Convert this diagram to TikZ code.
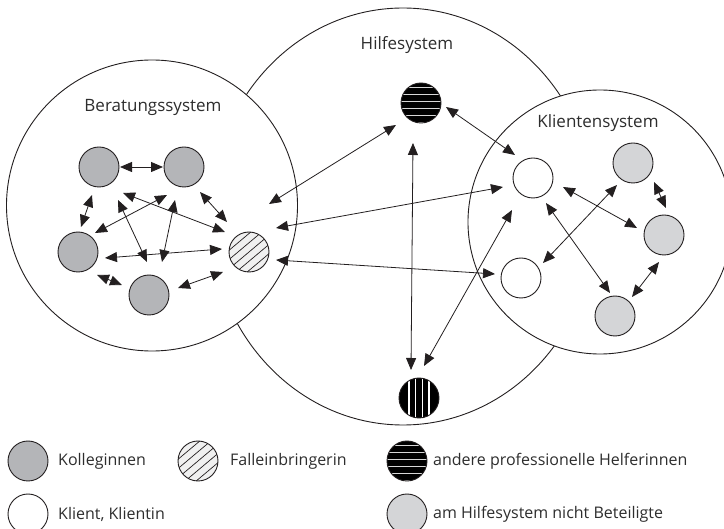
\documentclass[tikz,border=0pt]{standalone}
\usepackage{fontspec}
\setmainfont{Open Sans}
\usetikzlibrary{arrows.meta,calc}
\definecolor{koll}{RGB}{180,181,184}
\definecolor{nb}{RGB}{212,213,215}
\definecolor{linec}{RGB}{35,31,32}
\definecolor{txt}{RGB}{45,45,45}
\definecolor{stripe}{RGB}{215,215,215}
\tikzset{
  person/.style={circle, draw=linec, line width=0.9pt, minimum size=40pt, inner sep=0pt, outer sep=0pt},
  kolleg/.style={person, fill=koll},
  klient/.style={person, fill=white},
  unbet/.style={person, fill=nb},
  fall/.style={person, fill=black!6, path picture={
      \foreach \k in {-4,...,4}
        \draw[linec, line width=0.7pt] ($(path picture bounding box.center)+(\k*11-25,21)$) -- ++(50,-42);}},
  helferH/.style={person, fill=black, path picture={
      \foreach \k in {-15.5,-8.5,-1.5,5.5,12.5,19.5}
        \draw[stripe, line width=1.5pt] ($(path picture bounding box.center)+(-25,\k)$) -- ++(50,0);}},
  helferV/.style={person, fill=black, path picture={
      \foreach \k in {-10,-3.3,3.3,10}
        \draw[white, line width=1.4pt] ($(path picture bounding box.center)+(\k,-25)$) -- ++(0,50);}},
  dbl/.style={{Triangle[length=12pt,width=10pt]}-{Triangle[length=12pt,width=10pt]}, line width=0.8pt, draw=linec},
  sysline/.style={draw=linec, line width=0.9pt},
  syslabel/.style={font=\fontsize{17}{20}\selectfont, text=txt},
  legtext/.style={font=\fontsize{16}{19}\selectfont, text=txt, anchor=west, inner sep=0pt}
}
\begin{document}
\begin{tikzpicture}[x=1pt, y=-1pt]
\useasboundingbox (0,0) rectangle (724,529);
% systems
\draw[sysline] (403,216.5) ellipse [x radius=193, y radius=208.5];
\draw[sysline, fill=white] (152,205.5) circle [radius=145.5];
\draw[sysline, fill=white] (600,222) circle [radius=132];
\node[syslabel] (lH) at (407,45) {Hilfesystem};
\node[syslabel] (lB) at (153,107) {Beratungssystem};
\node[syslabel] (lK) at (598,123) {Klientensystem};
% nodes
\node[kolleg] (K1) at (99,167) {};
\node[kolleg] (K2) at (184,167) {};
\node[kolleg] (K3) at (78,252) {};
\node[kolleg] (K4) at (149,295) {};
\node[fall] (F) at (249,252) {};
\node[klient] (C1) at (533,178) {};
\node[klient] (C2) at (521,278) {};
\node[unbet] (G1) at (633,163) {};
\node[unbet] (G2) at (664,235) {};
\node[unbet] (G3) at (615,316) {};
\node[helferH] (HT) at (421,103) {};
\node[helferV] (HB) at (419,398) {};
% arrows left cluster
\draw[dbl] ($(K1)+(21,0)$) -- ($(K2)+(-21,0)$);
\draw[dbl] ($(K1)+(-7,28)$) -- ($(K3)+(3,-25)$);
\draw[dbl] ($(K2)+(16,25)$) -- ($(F)+(-22,-30)$);
\draw[dbl] ($(K1)+(24,26)$) -- ($(F)+(-24,-20)$);
\draw[dbl] ($(K2)+(-17,28)$) -- ($(K3)+(17,-19)$);
\draw[dbl] ($(K1)+(19,33)$) -- ($(K4)+(-2,-33)$);
\draw[dbl] ($(K2)+(-9,33)$) -- ($(K4)+(13,-33)$);
\draw[dbl] ($(K3)+(27,6)$) -- ($(F)+(-27,-3)$);
\draw[dbl] ($(K3)+(19,23)$) -- ($(K4)+(-27,-10)$);
\draw[dbl] ($(K4)+(29,-7)$) -- ($(F)+(-26,20)$);
% arrows between systems
\draw[dbl] ($(F)+(20,-48)$) -- ($(HT)+(-25,22)$);
\draw[dbl] ($(F)+(27,-24)$) -- ($(C1)+(-30,9)$);
\draw[dbl] ($(F)+(27,8)$) -- ($(C2)+(-26,-4)$);
\draw[dbl] ($(HT)+(25,4)$) -- ($(C1)+(-18,-23)$);
\draw[dbl] ($(HB)+(5,-32)$) -- ($(C1)+(-21,32)$);
\draw[dbl] ($(HT)+(-8,40)$) -- ($(HB)+(-8,-28)$);
% arrows right cluster
\draw[dbl] ($(C1)+(30,9)$) -- ($(G2)+(-27,-7)$);
\draw[dbl] ($(C1)+(13,25)$) -- ($(G3)+(-5,-23)$);
\draw[dbl] ($(G1)+(-16,22)$) -- ($(C2)+(22,-15)$);
\draw[dbl] ($(G1)+(21,19)$) -- ($(G2)+(2,-27)$);
\draw[dbl] ($(G2)+(-5,27)$) -- ($(G3)+(17,-19)$);
% legend
\node[kolleg] (LK) at (28,461) {};
\node[legtext] (tK) at (58,461) {Kolleginnen};
\node[fall] (LF) at (198,461) {};
\node[legtext] (tF) at (230,461) {Falleinbringerin};
\node[helferH] (LH) at (407,461) {};
\node[legtext] (tH) at (433,461) {andere professionelle Helferinnen};
\node[klient] (LC) at (28,514) {};
\node[legtext] (tC) at (58,514) {Klient, Klientin};
\node[unbet] (LU) at (407,514) {};
\node[legtext] (tU) at (433,514) {am Hilfesystem nicht Beteiligte};
\end{tikzpicture}
\end{document}
